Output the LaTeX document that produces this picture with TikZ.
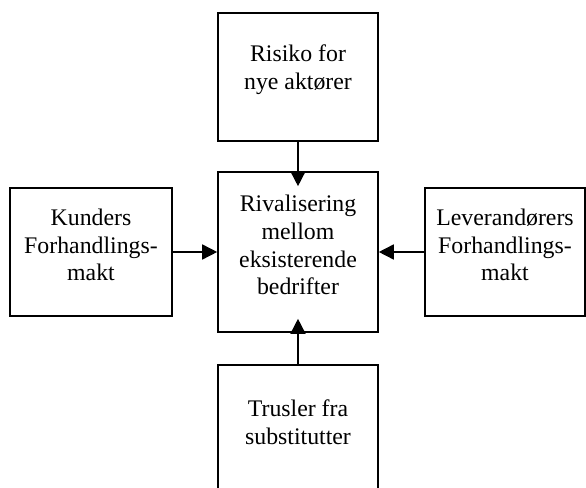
\documentclass[tikz,border=0pt]{standalone}
\usepackage{fontspec}
\setmainfont{Liberation Serif}
\usetikzlibrary{positioning,arrows.meta}
\tikzset{
  flowarrow/.style={-{Triangle[length=7.5pt, width=7.5pt]}, line width=0.8pt},
  forcebox/.style={draw, line width=0.8pt, fill=white, minimum width=80pt, minimum height=64pt, inner sep=2pt},
  corebox/.style={draw, line width=0.8pt, fill=white, minimum width=80pt, minimum height=80pt, inner sep=2pt},
  boxtext/.style={align=center, yshift=3.5pt}
}

\begin{document}
\begin{tikzpicture}[x=0.5pt, y=0.5pt, every node/.style={font=\fontsize{11.9}{13.9}\selectfont}]
  \useasboundingbox (0,0) rectangle (586,488);
  \node[corebox, label={[boxtext]center:{Rivalisering\\ mellom\\ eksisterende\\ bedrifter}}] (riv) at (298,236) {};
  \node[forcebox, label={[boxtext]center:{Risiko for\\ nye aktører}}] (nye) at (298,411) {};
  \node[forcebox, label={[boxtext]center:{Trusler fra\\ substitutter}}] (sub) at (298,59) {};
  \node[forcebox, minimum width=81pt, label={[boxtext]center:{Kunders\\ Forhandlings-\\ makt}}] (kund) at (91,236) {};
  \node[forcebox, label={[boxtext]center:{Leverandørers\\ Forhandlings-\\ makt}}] (lev) at (505,236) {};
  % the vertical arrows reach into the middle box
  \draw[flowarrow, shorten >=-7.5pt] (nye) -- (riv);
  \draw[flowarrow, shorten >=-7pt] (sub) -- (riv);
  \draw[flowarrow] (kund) -- (riv);
  \draw[flowarrow] (lev) -- (riv);
\end{tikzpicture}
\end{document}
